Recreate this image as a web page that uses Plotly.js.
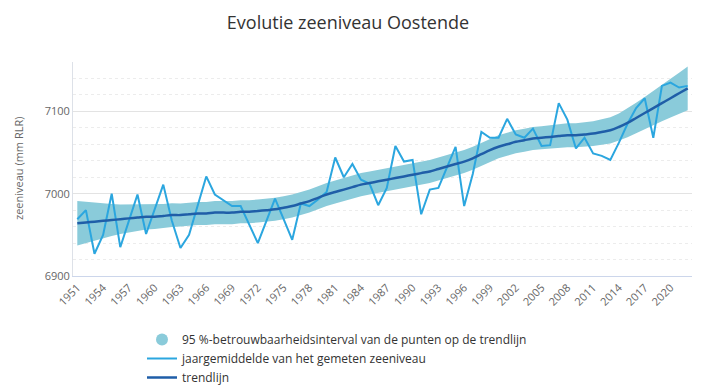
<!DOCTYPE html>
<html>
<head>
<meta charset="utf-8">
<script src="https://cdn.plot.ly/plotly-3.0.1.min.js"></script>
<style>html,body{margin:0;padding:0;background:#fff;}#chart{width:706px;height:388px;}</style>
</head>
<body>
<div id="chart"></div>
<script>
var years = [];
for (var yr = 1951; yr <= 2022; yr++) years.push(yr);

var jaargemiddelde = [
  6969, 6980, 6927, 6950, 7000, 6935, 6967, 6999, 6951, 6981,
  7011, 6967, 6934, 6950, 6984, 7021, 6999, 6992, 6985, 6985,
  6963, 6940, 6967, 6994, 6969, 6944, 6988, 6985, 6993, 7002,
  7044, 7020, 7036, 7017, 7012, 6986, 7007, 7058, 7039, 7041,
  6975, 7005, 7007, 7032, 7057, 6985, 7024, 7075, 7068, 7068,
  7091, 7072, 7068, 7079, 7058, 7059, 7110, 7090, 7055, 7068,
  7049, 7046, 7041, 7062, 7085, 7104, 7116, 7068, 7131, 7135,
  7129, 7131
];

var trendlijn = [
  6964, 6965, 6966, 6967, 6968, 6969, 6970, 6971, 6972, 6972,
  6973, 6974, 6974, 6975, 6976, 6976, 6977, 6977, 6977, 6978,
  6978, 6979, 6980, 6981, 6983, 6985, 6988, 6991, 6995, 6999,
  7002, 7005, 7008, 7011, 7013, 7015, 7017, 7019, 7021, 7023,
  7025, 7027, 7030, 7033, 7036, 7039, 7043, 7048, 7053, 7057,
  7060, 7063, 7065, 7067, 7068, 7069, 7070, 7071, 7071, 7072,
  7073, 7075, 7077, 7081, 7086, 7092, 7098, 7104, 7110, 7116,
  7122, 7128
];

var intervalHalf = [
  27, 25, 23, 21, 19.5, 18, 17, 16, 15.5, 15,
  14.5, 14.5, 14, 14, 14, 14, 14, 14, 14, 14,
  14, 14, 14, 14, 14, 14, 14, 14, 14, 14,
  14, 14, 14, 14, 14, 14, 14, 14, 14, 14,
  14, 14, 14, 14, 14, 14, 14, 14, 14, 14,
  14, 14, 14, 14, 14, 14, 14, 14.5, 14.5, 15,
  15, 15.5, 16, 16.5, 17.5, 18.5, 19.5, 20.5, 22, 23.5,
  25, 26.5
];

var xTicks = [1951,1954,1957,1960,1963,1966,1969,1972,1975,1978,1981,1984,1987,1990,1993,1996,1999,2002,2005,2008,2011,2014,2017,2020];
var yTicks = [6900, 7000, 7100];

var lower = trendlijn.map(function(v, i){ return v - intervalHalf[i]; });
var upper = trendlijn.map(function(v, i){ return v + intervalHalf[i]; });

var bandColor = '#8acbda';
var rawColor = '#2ba6df';
var trendColor = '#1f5ea8';
var FONT = 'Open Sans, DejaVu Sans, sans-serif';

var traces = [
  {x: years, y: lower, type: 'scatter', mode: 'lines', line: {width: 0, color: bandColor}, showlegend: false, hoverinfo: 'skip'},
  {x: years, y: upper, type: 'scatter', mode: 'lines', line: {width: 0, color: bandColor}, fill: 'tonexty', fillcolor: bandColor, showlegend: false, hoverinfo: 'skip'},
  {x: [null], y: [null], type: 'scatter', mode: 'markers', marker: {size: 12, color: bandColor, symbol: 'circle'}, name: '95 %-betrouwbaarheidsinterval van de punten op de trendlijn'},
  {x: years, y: jaargemiddelde, type: 'scatter', mode: 'lines', line: {width: 2, color: rawColor}, name: 'jaargemiddelde van het gemeten zeeniveau'},
  {x: years, y: trendlijn, type: 'scatter', mode: 'lines', line: {width: 2.5, color: trendColor, shape: 'spline'}, name: 'trendlijn'}
];

var layout = {
  width: 706, height: 388,
  margin: {l: 73, r: 14, t: 62, b: 112, autoexpand: false},
  paper_bgcolor: '#ffffff', plot_bgcolor: '#ffffff',
  font: {family: FONT, color: '#666666', size: 11},
  title: {text: 'Evolutie zeeniveau Oostende', x: 348 / 706, xanchor: 'center', xref: 'container', y: 1 - 23/388, yref: 'container', yanchor: 'middle', font: {family: FONT, size: 18, color: '#333333'}},
  xaxis: {
    range: [1950.5, 2022.5], tickmode: 'array', tickvals: xTicks, ticktext: xTicks.map(String),
    tickangle: -45, tickfont: {family: FONT, size: 11, color: '#666666'},
    showgrid: false, zeroline: false, showline: true, linecolor: '#ccd6eb', linewidth: 1, ticks: '', fixedrange: true, automargin: false
  },
  yaxis: {
    range: [6900, 7160], tickmode: 'array', tickvals: yTicks, ticktext: yTicks.map(String),
    tickfont: {family: FONT, size: 11, color: '#666666'},
    showgrid: true, gridcolor: '#e3e3e3', gridwidth: 1, zeroline: false,
    showline: true, linecolor: '#dde1e8', linewidth: 1, ticks: '',
    minor: {dtick: 20, tick0: 6900, showgrid: true, gridcolor: '#ececec', griddash: 'dot', gridwidth: 1, ticks: ''},
    fixedrange: true, automargin: false
  },
  annotations: [{
    text: 'zeeniveau (mm RLR)', textangle: -90, xref: 'paper', yref: 'paper',
    x: (18 - 73) / 619, y: 0.5, xanchor: 'center', yanchor: 'middle', showarrow: false,
    font: {family: FONT, size: 11, color: '#666666'}
  }],
  showlegend: true,
  legend: {
    xref: 'container', yref: 'container',
    x: 142 / 706, xanchor: 'left', y: 1 - 325 / 388, yanchor: 'top',
    orientation: 'v', traceorder: 'normal', font: {family: FONT, size: 12, color: '#333333'},
    bgcolor: 'rgba(0,0,0,0)', borderwidth: 0, tracegroupgap: 0, itemwidth: 30
  }
};

Plotly.newPlot('chart', traces, layout, {displayModeBar: false, staticPlot: true});
</script>
</body>
</html>
